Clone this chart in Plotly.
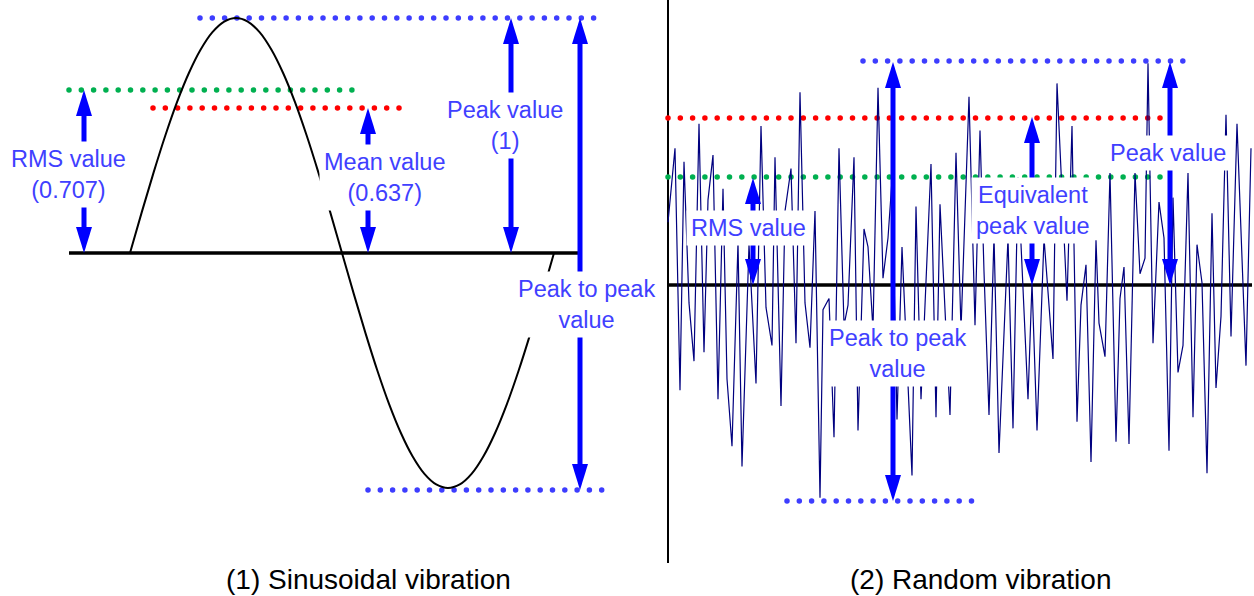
import numpy as np
import plotly.graph_objects as go

# ---------------- data ----------------
# (1) sinusoidal vibration: phase (deg) and normalised amplitude
sine_deg = list(range(0, 361, 10))
sine_val = [0.000, 0.174, 0.342, 0.500, 0.643, 0.766, 0.866, 0.940, 0.985, 1.000,
            0.985, 0.940, 0.866, 0.766, 0.643, 0.500, 0.342, 0.174, 0.000,
            -0.174, -0.342, -0.500, -0.643, -0.766, -0.866, -0.940, -0.985, -1.000,
            -0.985, -0.940, -0.866, -0.766, -0.643, -0.500, -0.342, -0.174, 0.000]

# (2) random vibration: time (samples) and amplitude (peak = 1)
rand_t = [0, 7, 12, 16, 21, 26, 31, 36, 40, 45, 50, 55, 59, 64, 70, 74, 81, 88, 93, 98,
          104, 107, 113, 117, 123, 128, 132, 137, 142, 147, 152, 155, 161, 166, 171, 176,
          180, 186, 190, 196, 200, 205, 210, 215, 220, 224, 229, 234, 244, 248, 253, 263,
          268, 272, 282, 288, 293, 301, 307, 312, 316, 321, 326, 331, 340, 345, 350, 360,
          364, 369, 376, 385, 389, 399, 404, 409, 413, 418, 423, 428, 431, 437, 442, 448,
          452, 456, 461, 467, 472, 477, 480, 485, 491, 496, 501, 505, 510, 515, 520, 525,
          529, 534, 539, 544, 548, 553, 558, 563, 569, 578, 583]
rand_v = [0.28, 0.61, -0.47, 0.55, -0.08, -0.34, 0.72, -0.30, 0.38, 0.58, -0.51, 0.43,
          -0.42, -0.72, 0.19, -0.81, 0.18, -0.44, 0.71, -0.10, -0.27, 0.57, -0.54, 0.33,
          0.52, -0.26, 0.86, -0.08, -0.28, 0.33, -0.95, -0.11, -0.06, -0.68, 0.61, -0.18,
          -0.09, 0.57, -0.65, 0.25, 0.17, -0.20, 0.88, 0.03, 0.21, 0.47, -0.60, 0.17,
          -0.85, 0.35, -0.51, 0.54, -0.59, 0.36, -0.58, 0.59, -0.20, 0.84, -0.18, 0.69,
          0.06, -0.58, 0.22, -0.75, 0.21, -0.64, 0.48, -0.51, 0.01, -0.65, 0.21, -0.33,
          0.90, -0.07, 0.71, -0.61, -0.09, 0.09, -0.79, 0.20, -0.17, -0.32, 0.50, -0.70,
          -0.06, 0.08, -0.71, 0.50, 0.05, 0.12, 0.99, -0.26, 0.37, 0.21, -0.74, 0.39,
          -0.39, -0.27, 0.50, -0.59, 0.18, 0.01, -0.84, 0.32, -0.46, -0.14, 0.76, -0.23,
          0.72, -0.36, 0.61]

labels_sine = ["RMS value<br>(0.707)", "Mean value<br>(0.637)", "Peak value<br>(1)",
               "Peak to peak<br>value"]
labels_rand = ["RMS value", "Equivalent<br>peak value", "Peak value", "Peak to peak<br>value"]
captions = ["(1) Sinusoidal vibration", "(2) Random vibration"]

# ---------------- layout constants (pixels) ----------------
W, H = 1254, 596
FONT = "Liberation Sans, Arial, sans-serif"
TXT = "#4040ff"
ARROW = "#0000ff"
DOT_BLUE = "#3d3dff"
DOT_RED = "#ff0000"
DOT_GREEN = "#00b050"

# sine axis mapping
S_X0, S_PX_DEG = 130.0, 424.0 / 360.0
S_Y0, S_AMP = 253.0, 235.0
# random axis mapping
R_X0 = 668.0
R_Y0, R_AMP = 285.0, 224.0

fig = go.Figure()

fig.add_trace(go.Scatter(x=sine_deg, y=sine_val, mode="lines", line=dict(color="black", width=2, shape="spline"),
                         xaxis="x2", yaxis="y2", hoverinfo="skip", showlegend=False))
fig.add_trace(go.Scatter(x=rand_t, y=rand_v, mode="lines", line=dict(color="#00007f", width=1.2),
                         xaxis="x3", yaxis="y3", hoverinfo="skip", showlegend=False))

# zero lines and divider (pixel axes)
for xs, ys, w in [([69, 580], [253, 253], 3.5), ([668, 1252], [285, 285], 3.5), ([668, 668], [0, 563], 2)]:
    fig.add_trace(go.Scatter(x=xs, y=ys, mode="lines", line=dict(color="black", width=w),
                             hoverinfo="skip", showlegend=False))

# dotted level lines
def dots(x0, x1, y, color):
    xs = np.arange(x0, x1 + 0.1, 12.3)
    fig.add_trace(go.Scatter(x=xs, y=[y] * len(xs), mode="markers",
                             marker=dict(color=color, size=5.5, line=dict(width=0)),
                             hoverinfo="skip", showlegend=False))

dots(200, 604, 18, DOT_BLUE)
dots(368, 602, 490, DOT_BLUE)
dots(69, 355, 90, DOT_GREEN)
dots(153, 399, 108, DOT_RED)
dots(668, 1162, 118, DOT_RED)
dots(668, 1162, 177, DOT_GREEN)
dots(863, 1183, 61, DOT_BLUE)
dots(787, 972, 501, DOT_BLUE)

# double-headed arrows
shapes = []
HL, HW = 26, 8
def arrow(x, top, bot):
    shapes.append(dict(type="line", xref="x", yref="y", x0=x, x1=x, y0=top + 15, y1=bot - 15,
                       line=dict(color=ARROW, width=5), layer="above"))
    shapes.append(dict(type="path", xref="x", yref="y", layer="above", fillcolor=ARROW, line=dict(width=0),
                       path=f"M{x},{top} L{x - HW},{top + HL} L{x + HW},{top + HL} Z"))
    shapes.append(dict(type="path", xref="x", yref="y", layer="above", fillcolor=ARROW, line=dict(width=0),
                       path=f"M{x},{bot} L{x - HW},{bot - HL} L{x + HW},{bot - HL} Z"))

arrow(84, 90, 253)
arrow(368, 108, 253)
arrow(511, 18, 253)
arrow(580, 18, 490)
arrow(753, 178, 285)
arrow(1032, 117, 285)
arrow(1170, 62, 285)
arrow(893, 62, 501)

annotations = []
def label(x, y, text):
    annotations.append(dict(x=x, y=y, xref="x", yref="y", text=text, showarrow=False,
                            font=dict(family=FONT, size=23.5, color=TXT), bgcolor="white",
                            borderpad=4, align="center", xanchor="center", yanchor="middle"))

for (x, y), t in zip([(68, 174), (385, 177), (505, 125), (586, 304)], labels_sine):
    label(x, y, t)
for (x, y), t in zip([(748, 228), (1033, 210), (1168, 153), (897, 353)], labels_rand):
    label(x, y, t)
for x, t in zip([368, 980], captions):
    annotations.append(dict(x=x, y=579, xref="x", yref="y", text=t, showarrow=False,
                            font=dict(family=FONT, size=28, color="black"),
                            xanchor="center", yanchor="middle"))

hidden = dict(visible=False, showgrid=False, zeroline=False, fixedrange=True, domain=[0, 1])
fig.update_layout(
    width=W, height=H, autosize=False, margin=dict(l=0, r=0, t=0, b=0),
    paper_bgcolor="white", plot_bgcolor="white", showlegend=False,
    xaxis=dict(range=[0, W], **hidden),
    yaxis=dict(range=[H, 0], **hidden),
    xaxis2=dict(range=[(0 - S_X0) / S_PX_DEG, (W - S_X0) / S_PX_DEG], overlaying="x", anchor="y2", **hidden),
    yaxis2=dict(range=[(S_Y0 - H) / S_AMP, S_Y0 / S_AMP], overlaying="y", anchor="x2", **hidden),
    xaxis3=dict(range=[0 - R_X0, W - R_X0], overlaying="x", anchor="y3", **hidden),
    yaxis3=dict(range=[(R_Y0 - H) / R_AMP, R_Y0 / R_AMP], overlaying="y", anchor="x3", **hidden),
    shapes=shapes, annotations=annotations,
)

fig.write_html("out.html", config=dict(displayModeBar=False, staticPlot=True))
